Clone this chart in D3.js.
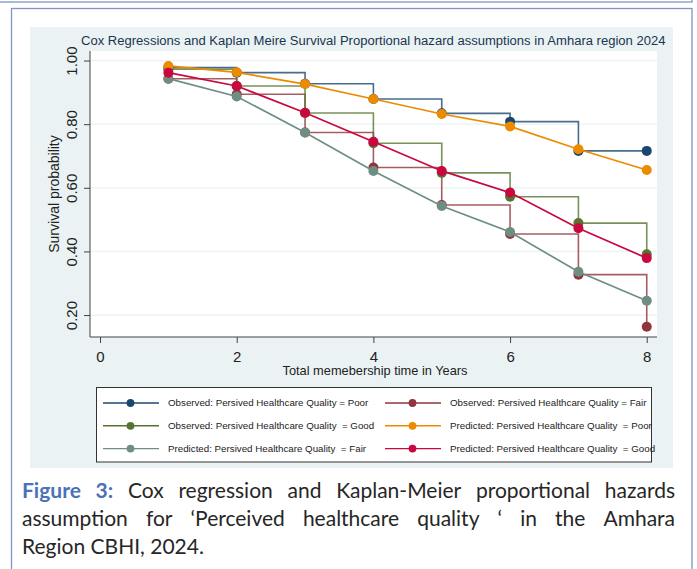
<!DOCTYPE html>
<html>
<head>
<meta charset="utf-8">
<script src="https://cdn.jsdelivr.net/npm/d3@7"></script>
<style>
  html, body { margin: 0; padding: 0; background: #ffffff; }
  svg { display: block; }
</style>
</head>
<body>
<svg id="fig" width="697" height="569"></svg>
<script>
// Follow-up times (years) and survival estimates per group
const times = [1, 2, 3, 4, 5, 6, 7, 8];
const observedPoor = [0.978, 0.962, 0.927, 0.879, 0.834, 0.808, 0.716, 0.716];
const observedFair = [0.943, 0.894, 0.774, 0.664, 0.546, 0.455, 0.327, 0.163];
const observedGood = [0.973, 0.920, 0.835, 0.740, 0.647, 0.572, 0.489, 0.391];
const predictedPoor = [0.983, 0.963, 0.926, 0.879, 0.832, 0.793, 0.721, 0.656];
const predictedFair = [0.943, 0.887, 0.774, 0.653, 0.543, 0.461, 0.336, 0.245];
const predictedGood = [0.962, 0.920, 0.836, 0.745, 0.653, 0.585, 0.473, 0.379];

const yTicks = [0.20, 0.40, 0.60, 0.80, 1.00];
const xTicks = [0, 2, 4, 6, 8];

const legendLabels = [
  "Observed: Persived Healthcare Quality = Poor",
  "Observed: Persived Healthcare Quality = Fair",
  "Observed: Persived Healthcare Quality  = Good",
  "Predicted: Persived Healthcare Quality  = Poor",
  "Predicted: Persived Healthcare Quality  = Fair",
  "Predicted: Persived Healthcare Quality  = Good"
];
const chartTitle = "Cox Regressions and Kaplan Meire Survival Proportional hazard assumptions in Amhara region 2024";
const yTitle = "Survival probability";
const xTitle = "Total memebership time in Years";
const captionLines = [
  ["Cox regression and Kaplan-Meier proportional hazards"],
  ["assumption for \u2018Perceived healthcare quality \u2018 in the Amhara"],
  ["Region CBHI, 2024."]
];
const captionLabel = "Figure 3:";

// Series setup: observed = step curves, predicted = straight segments
const series = [
  { values: observedPoor, color: "#1a476f", kind: "obs" },
  { values: observedFair, color: "#90353b", kind: "obs" },
  { values: observedGood, color: "#55752f", kind: "obs" },
  { values: predictedPoor, color: "#ec8b00", kind: "pred" },
  { values: predictedFair, color: "#6e8e84", kind: "pred" },
  { values: predictedGood, color: "#c8083f", kind: "pred" }
];

const svg = d3.select("#fig");
const FONT = "'Liberation Sans', Arial, sans-serif";

// Page frame
svg.append("rect").attr("x", -5).attr("y", -20).attr("width", 697).attr("height", 22)
  .attr("fill", "none").attr("stroke", "#7d95c8").attr("stroke-width", 1.3);
svg.append("rect").attr("x", 11.5).attr("y", 8.5).attr("width", 680.5).attr("height", 600)
  .attr("fill", "none").attr("stroke", "#7d95c8").attr("stroke-width", 1.3);

// Graph background
svg.append("rect").attr("x", 30).attr("y", 27).attr("width", 643).attr("height", 441)
  .attr("fill", "#eaf2f3");

const plot = { left: 90, right: 657, top: 51, bottom: 337 };
svg.append("rect").attr("x", plot.left).attr("y", plot.top)
  .attr("width", plot.right - plot.left).attr("height", plot.bottom - plot.top)
  .attr("fill", "#ffffff");

const x = d3.scaleLinear().domain([-0.147, 8.15]).range([plot.left, plot.right]);
const y = d3.scaleLinear().domain([0.131, 1.03]).range([plot.bottom, plot.top]);

// Grid lines
svg.append("g").selectAll("line").data(yTicks).join("line")
  .attr("x1", plot.left).attr("x2", plot.right)
  .attr("y1", d => y(d)).attr("y2", d => y(d))
  .attr("stroke", "#eaf2f3").attr("stroke-width", 1.2);

// Axes
const yAxis = svg.append("g").attr("transform", `translate(${plot.left},0)`)
  .call(d3.axisLeft(y).tickValues(yTicks).tickFormat(d3.format(".2f")).tickSize(6).tickPadding(4));
yAxis.select(".domain").attr("d", `M0,${plot.top}V${plot.bottom}`).attr("stroke", "#444");
yAxis.selectAll(".tick line").attr("stroke", "#444");
yAxis.selectAll(".tick text")
  .attr("font-family", FONT).attr("font-size", 15).attr("fill", "#222")
  .attr("x", 0).attr("dy", 0).attr("y", -13)
  .attr("text-anchor", "middle")
  .attr("transform", "rotate(-90)");

const xAxis = svg.append("g").attr("transform", `translate(0,${plot.bottom})`)
  .call(d3.axisBottom(x).tickValues(xTicks).tickFormat(d3.format("d")).tickSize(6).tickPadding(8));
xAxis.select(".domain").attr("d", `M${plot.left},0H${plot.right}`).attr("stroke", "#444");
xAxis.selectAll(".tick line").attr("stroke", "#444");
xAxis.selectAll(".tick text").attr("font-family", FONT).attr("font-size", 15).attr("fill", "#222");

// Titles
svg.append("text").attr("x", 81).attr("y", 45)
  .attr("font-family", FONT).attr("font-size", 13.05).attr("fill", "#1a3550")
  .text(chartTitle);
svg.append("text")
  .attr("transform", `translate(59,${(plot.top + plot.bottom) / 2}) rotate(-90)`)
  .attr("text-anchor", "middle")
  .attr("font-family", FONT).attr("font-size", 14).attr("fill", "#222")
  .text(yTitle);
svg.append("text").attr("x", 375).attr("y", 375).attr("text-anchor", "middle")
  .attr("font-family", FONT).attr("font-size", 12.8).attr("fill", "#222")
  .text(xTitle);

// Curves
const stepLine = d3.line().x(d => x(d[0])).y(d => y(d[1])).curve(d3.curveStepAfter);
const straightLine = d3.line().x(d => x(d[0])).y(d => y(d[1]));

const marks = svg.append("g");
series.forEach(s => {
  const pts = times.map((t, i) => [t, s.values[i]]);
  marks.append("path").datum(pts)
    .attr("d", s.kind === "obs" ? stepLine : straightLine)
    .attr("fill", "none").attr("stroke", s.color)
    .attr("stroke-opacity", s.kind === "obs" ? 0.8 : 1)
    .attr("stroke-width", s.kind === "obs" ? 1.6 : 1.7);
  marks.append("g").selectAll("circle").data(pts).join("circle")
    .attr("cx", d => x(d[0])).attr("cy", d => y(d[1])).attr("r", 5)
    .attr("fill", s.color);
});

// Legend
const legend = svg.append("g");
legend.append("rect").attr("x", 96.5).attr("y", 387.5).attr("width", 555).attr("height", 74.5)
  .attr("fill", "#ffffff").attr("stroke", "#333").attr("stroke-width", 1);
const legendOrder = [0, 2, 4, 1, 3, 5];
legendOrder.forEach((si, k) => {
  const col = Math.floor(k / 3), row = k % 3;
  const x0 = col === 0 ? 103 : 385;
  const yy = 403 + row * 22.8;
  const s = series[si];
  legend.append("line").attr("x1", x0).attr("x2", x0 + 56).attr("y1", yy).attr("y2", yy)
    .attr("stroke", s.color).attr("stroke-width", 1.4);
  legend.append("circle").attr("cx", x0 + 27.5).attr("cy", yy).attr("r", 3.9).attr("fill", s.color);
  legend.append("text").attr("x", x0 + 65).attr("y", yy + 3.4)
    .attr("font-family", FONT).attr("font-size", 9.75).attr("fill", "#222")
    .style("white-space", "pre")
    .text(legendLabels[si]);
});

// Caption, justified between the frame margins
const CAP_FONT = "Lato, 'Open Sans', sans-serif";
const capLeft = 22, capRight = 675, capSize = 21;
const capBase = [498, 526, 554];
const cap = svg.append("g");

function measure(txt, weight) {
  const t = cap.append("text").attr("font-family", CAP_FONT).attr("font-size", capSize)
    .attr("font-weight", weight).style("white-space", "pre").text(txt);
  const w = t.node().getComputedTextLength();
  t.remove();
  return w;
}

captionLines.forEach((ln, i) => {
  const words = [];
  if (i === 0) captionLabel.split(" ").forEach(w => words.push({ w, bold: true }));
  ln[0].split(" ").filter(w => w.length).forEach(w => words.push({ w, bold: false }));
  const widths = words.map(o => measure(o.w, o.bold ? 700 : 400));
  const total = d3.sum(widths);
  const justify = i < captionLines.length - 1;
  const gap = justify ? (capRight - capLeft - total) / (words.length - 1) : measure(" ", 400);
  let cx = capLeft;
  words.forEach((o, j) => {
    cap.append("text").attr("x", cx).attr("y", capBase[i])
      .attr("font-family", CAP_FONT).attr("font-size", capSize)
      .attr("font-weight", o.bold ? 700 : 400)
      .attr("fill", o.bold ? "#4a72b8" : "#262626")
      .text(o.w);
    cx += widths[j] + gap;
  });
});
</script>
</body>
</html>
